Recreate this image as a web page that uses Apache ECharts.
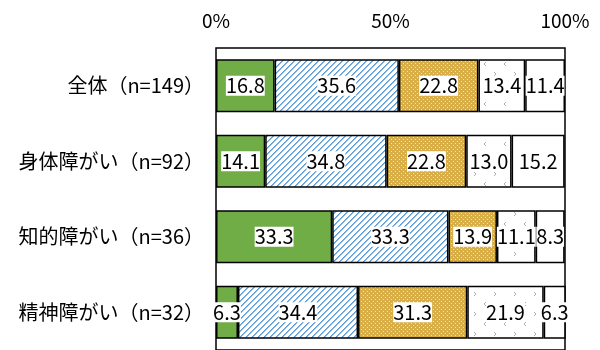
<!DOCTYPE html>
<html>
<head>
<meta charset="utf-8">
<script src="https://cdn.jsdelivr.net/npm/echarts@6/dist/echarts.min.js"></script>
<style>
  html, body { margin: 0; padding: 0; background: #fff; }
  #chart { width: 600px; height: 350px; }
</style>
</head>
<body>
<div id="chart"></div>
<script>
// カテゴリ（上から順）
const categories = ['全体（n=149）', '身体障がい（n=92）', '知的障がい（n=36）', '精神障がい（n=32）'];

// 各区分の割合（%）
const seg1 = [16.8, 14.1, 33.3, 6.3];
const seg2 = [35.6, 34.8, 33.3, 34.4];
const seg3 = [22.8, 22.8, 13.9, 31.3];
const seg4 = [13.4, 13.0, 11.1, 21.9];
const seg5 = [11.4, 15.2, 8.3, 6.3];

const xTicks = [0, 50, 100];

// 模様の作成
function makeTile(size, draw) {
  const c = document.createElement('canvas');
  c.width = size; c.height = size;
  const ctx = c.getContext('2d');
  draw(ctx, size);
  return c;
}

const stripeTile = makeTile(6, (ctx, n) => {
  ctx.fillStyle = '#fff';
  ctx.fillRect(0, 0, n, n);
  for (let x = 0; x < n; x++) {
    for (let y = 0; y < n; y++) {
      const k = (x + y) % n;
      if (k === 0) {
        ctx.fillStyle = '#5B9BD5';
        ctx.fillRect(x, y, 1, 1);
      } else if (k === 1) {
        ctx.fillStyle = '#8DB9E4';
        ctx.fillRect(x, y, 1, 1);
      }
    }
  }
});

const dotTile = makeTile(4, (ctx, n) => {
  ctx.fillStyle = '#D9AE45';
  ctx.fillRect(0, 0, n, n);
  ctx.fillStyle = '#F4E6BE';
  ctx.fillRect(1, 1, 1, 1);
  ctx.fillRect(3, 3, 1, 1);
});

const arrowTile = makeTile(20, (ctx, n) => {
  ctx.fillStyle = '#fff';
  ctx.fillRect(0, 0, n, n);
  ctx.strokeStyle = '#B0B0B0';
  ctx.lineWidth = 1;
  ctx.beginPath();
  ctx.moveTo(6, 2); ctx.lineTo(4, 4); ctx.lineTo(6, 6);
  ctx.moveTo(14, 12); ctx.lineTo(16, 14); ctx.lineTo(14, 16);
  ctx.stroke();
});

function pat(tile) {
  return { image: tile, repeat: 'repeat' };
}

const fills = ['#70AD47', pat(stripeTile), pat(dotTile), pat(arrowTile), '#ffffff'];
const allData = [seg1, seg2, seg3, seg4, seg5];

const series = allData.map((d, i) => ({
  type: 'bar',
  stack: 'total',
  barWidth: '70%',
  data: d,
  itemStyle: {
    color: fills[i],
    borderColor: '#000',
    borderWidth: 1.5
  },
  label: {
    show: true,
    position: 'inside',
    color: '#000',
    fontSize: 20,
    fontFamily: 'Noto Sans CJK JP',
    backgroundColor: '#fff',
    padding: [0, 0, 0, 0],
    formatter: p => p.value.toFixed(1)
  },
  animation: false
}));

const chart = echarts.init(document.getElementById('chart'));
chart.setOption({
  animation: false,
  grid: {
    left: 216,
    right: 35,
    top: 48,
    height: 306,
    show: true,
    borderColor: '#000',
    borderWidth: 1.5,
    backgroundColor: 'transparent'
  },
  xAxis: {
    type: 'value',
    position: 'top',
    min: xTicks[0],
    max: xTicks[xTicks.length - 1],
    interval: 50,
    axisLine: { show: false },
    axisTick: { show: false },
    splitLine: { show: false },
    axisLabel: {
      formatter: '{value}%',
      color: '#000',
      fontSize: 19,
      fontFamily: 'Noto Sans CJK JP',
      margin: 18
    }
  },
  yAxis: {
    type: 'category',
    inverse: true,
    data: categories,
    axisLine: { show: false },
    axisTick: { show: false },
    axisLabel: {
      color: '#000',
      fontSize: 20,
      fontFamily: 'Noto Sans CJK JP',
      margin: 12
    }
  },
  series: series
});
</script>
</body>
</html>
